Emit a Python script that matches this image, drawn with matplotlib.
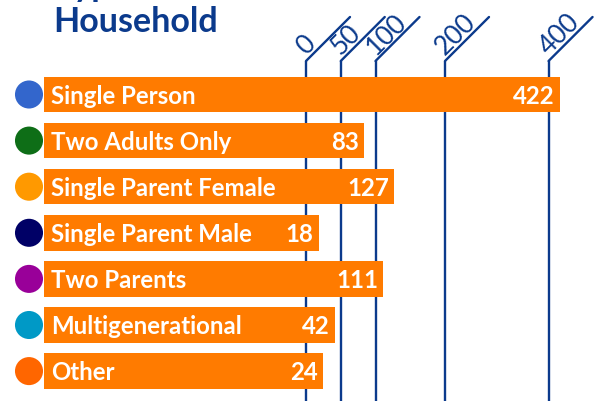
import numpy as np
import matplotlib
matplotlib.use("Agg")
import matplotlib.pyplot as plt

# ---- data ----
categories = ["Single Person", "Two Adults Only", "Single Parent Female",
              "Single Parent Male", "Two Parents", "Multigenerational", "Other"]
values = [422, 83, 127, 18, 111, 42, 24]
dot_colors = ["#3366CC", "#0E6E17", "#FF9900", "#000066", "#990099", "#0099C6", "#FF6600"]
tick_values = [0, 50, 100, 200, 400]
tick_labels = ["0", "50", "100", "200", "400"]
title_lines = ["Type of", "Household"]

BAR = "#FF7B00"
NAVY = "#0B3A8C"
FONT = "Lato"

W, H = 600, 402
fig = plt.figure(figsize=(6, 4.02), dpi=100)
ax = fig.add_axes([0, 0, 1, 1])
ax.axis("off")

# piecewise-linear axis (compressed above 200)
BREAK, K = 200.0, 0.745
def fwd(x):
    x = np.asarray(x, float)
    return np.where(x <= BREAK, x, BREAK + (x - BREAK) * K)
def inv(y):
    y = np.asarray(y, float)
    return np.where(y <= BREAK, y, BREAK + (y - BREAK) / K)
ax.set_xscale("function", functions=(fwd, inv))

PX = 0.695   # pixels per unit
X0 = 306     # pixel of zero
def xd(px):
    return float(inv((px - X0) / PX))

ax.set_xlim(xd(0), xd(W))
ROW0, ROWH = 95.5, 46.1
ybot = (H - ROW0) / ROWH
ax.set_ylim(ybot, -ROW0 / ROWH)
ybend = (62 - ROW0) / ROWH

# gridlines with bent tops
for t, lbl in zip(tick_values, tick_labels):
    ax.plot([t, t], [ybot + 0.1, ybend], color=NAVY, lw=1.7, zorder=1,
            solid_capstyle="butt")
    ax.annotate("", xy=(t, ybend), xytext=(44, 44), textcoords="offset pixels",
                arrowprops=dict(arrowstyle="-", color=NAVY, lw=1.7,
                                shrinkA=0, shrinkB=0), zorder=1)
    ax.annotate(lbl, xy=(t, ybend), xytext=(0, 6), textcoords="offset pixels",
                rotation=45, rotation_mode="anchor", ha="left", va="baseline",
                fontsize=19, color=NAVY, family=FONT)

# bars
y = np.arange(len(categories))
left = xd(44)
ax.barh(y, np.array(values) - left, left=left, height=0.77, color=BAR,
        zorder=3)

# dots
ax.scatter([xd(29)] * len(y), y, s=20.2 ** 2, c=dot_colors, zorder=4,
           linewidths=0)

for yi, cat, v in zip(y, categories, values):
    ax.annotate(cat, xy=(left, yi), xytext=(7, -8), textcoords="offset pixels",
                ha="left", va="baseline", color="white", fontsize=17.3,
                fontweight="bold", family=FONT, zorder=5)
    ax.annotate(str(v), xy=(v, yi), xytext=(-5, -8), textcoords="offset pixels",
                ha="right", va="baseline", color="white", fontsize=17.3,
                fontweight="bold", family=FONT, zorder=5)

# title (partially cropped at top, as in the reference)
fig.text(53 / W, (H - 32) / H, title_lines[1], ha="left", va="baseline",
         fontsize=24.5, fontweight="bold", color=NAVY, family=FONT)
fig.text(53 / W, (H + 4) / H, title_lines[0], ha="left", va="baseline",
         fontsize=24.5, fontweight="bold", color=NAVY, family=FONT)

fig.savefig("out.png", dpi=100)
